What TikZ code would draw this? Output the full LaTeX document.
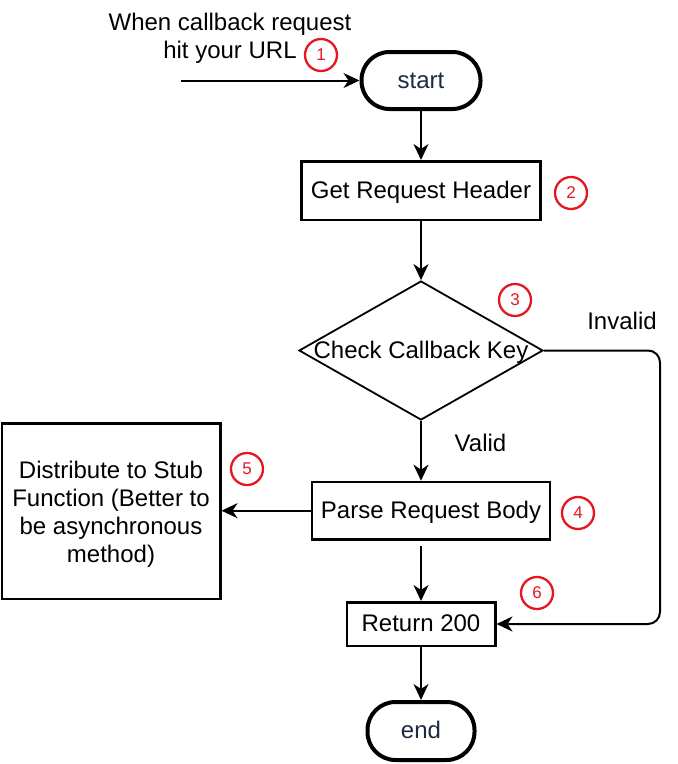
\documentclass[tikz,border=0pt]{standalone}
\usepackage{fontspec}
\setmainfont{Liberation Sans}
\usetikzlibrary{arrows.meta,shapes.geometric}
\definecolor{termtext}{RGB}{28,42,66}
\definecolor{markred}{RGB}{228,22,32}

\begin{document}
\begin{tikzpicture}[x=1pt,y=-1pt,
	lbl/.style={font=\fontsize{24}{28}\selectfont},
	line/.style={lbl,text height=17pt,text depth=2pt},
	box/.style={lbl,draw,line width=2.5pt,inner sep=0pt},
	term/.style={line,draw,line width=4pt,rounded corners=28pt,inner sep=0pt,text=termtext},
	num/.style={draw=markred,text=markred,shape=circle,line width=2.3pt,inner sep=0pt,minimum size=32pt,font=\fontsize{17}{17}\selectfont},
	arr/.style={-{Stealth[length=16pt,width=15pt,inset=5pt]},line width=2pt}]
	%\draw[help lines] (0,0) grid (678,764);
	\useasboundingbox (0,0) rectangle (678,764);

	\node[lbl,align=center] (intro) at (230,38) {When callback request\\hit your URL};
	\coordinate (in) at (181,80.5);
	\node[term,minimum width=119pt,minimum height=57pt] (start) at (421,80.5) {start};
	\node[box,line,minimum width=239pt,minimum height=58.5pt] (hdr) at (421,190.5) {Get Request Header};
	\node[draw,shape=diamond,line width=1.8pt,inner sep=0pt,minimum width=244pt,minimum height=139pt,
		label={[line]center:Check Callback Key}] (chk) at (421,350.5) {};
	\node[box,line,minimum width=238pt,minimum height=57.5pt] (parse) at (431,510.7) {Parse Request Body};
	\node[box,minimum width=218.5pt,minimum height=175.5pt,
		label={[lbl,align=center,yshift=-3pt]center:Distribute to Stub\\Function (Better to\\be asynchronous\\method)}] (dist) at (111,511) {};
	\node[box,line,minimum width=148.5pt,minimum height=43.5pt] (ret) at (421,624) {Return 200};
	\node[term,minimum width=107pt,minimum height=58pt] (end) at (421,731) {end};

	\node[num] (n1) at (321,55) {1};
	\node[num] (n2) at (571,193) {2};
	\node[num] (n3) at (515,300) {3};
	\node[num] (n4) at (578,513) {4};
	\node[num] (n5) at (247,469) {5};
	\node[num] (n6) at (537,593) {6};

	\draw[arr](in)--(start);
	\draw[arr](start)--(hdr);
	\draw[arr](hdr)--(chk);
	\draw[arr](chk)--(chk.south|-parse.north);
	\node[line] (valid) at (480.5,444) {Valid};
	\draw[arr](parse.west)--(dist.east|-parse.west);
	\coordinate (pb) at (421,546);
	\draw[arr](pb)--(ret);
	\coordinate (bend) at (660,350.5);
	\draw[arr,rounded corners=12pt](chk.east)--(bend)|-(ret.east);
	\node[line] (invalid) at (622,321.5) {Invalid};
	\draw[arr](ret)--(end);

\end{tikzpicture}
\end{document}
